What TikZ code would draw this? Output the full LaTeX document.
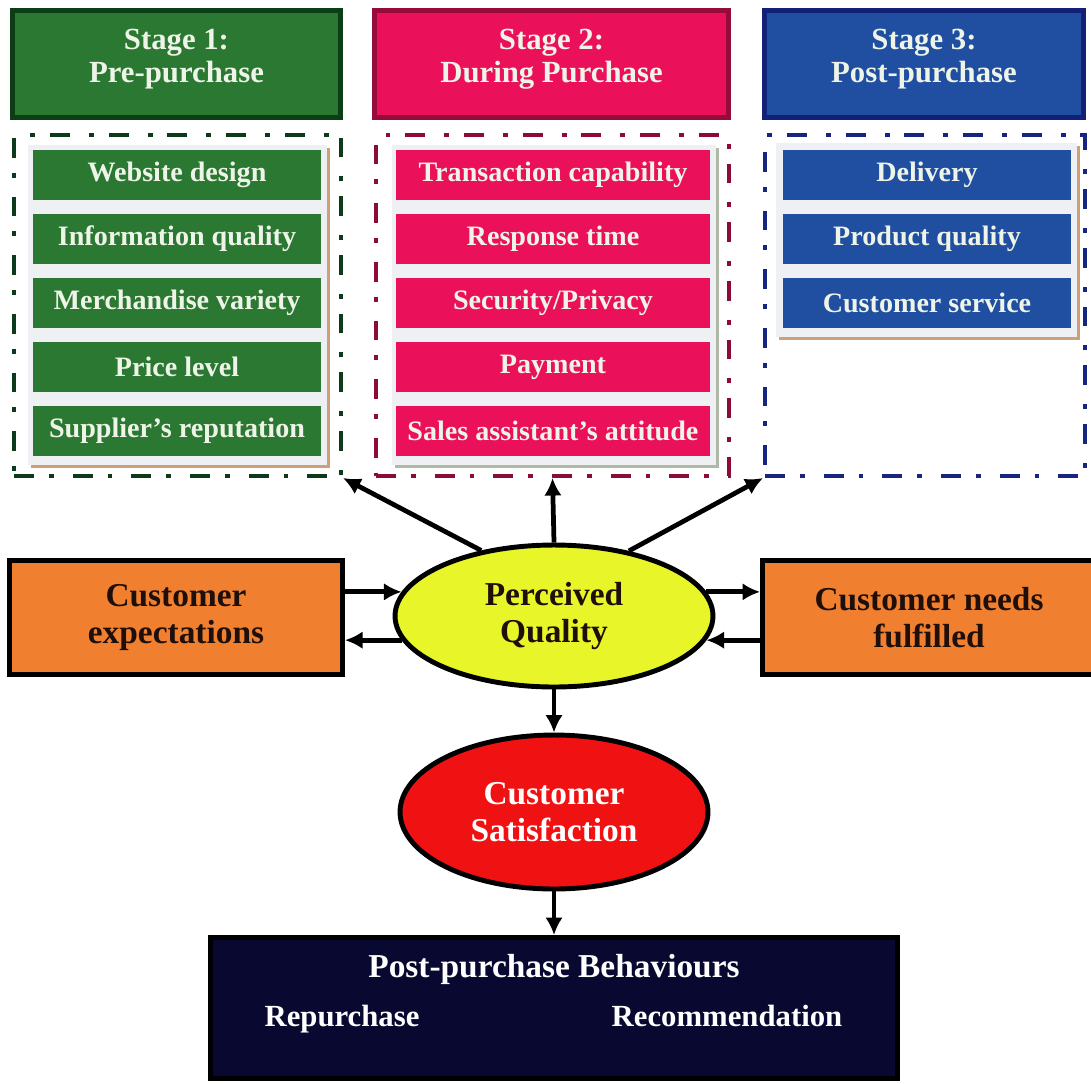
\documentclass[tikz,border=0pt]{standalone}
\usepackage{fontspec}
\setmainfont{Liberation Serif}
\usetikzlibrary{shapes.geometric,arrows.meta,shadows}

\definecolor{stgreen}{RGB}{42,120,50}
\definecolor{hdgreen}{RGB}{12,62,22}
\definecolor{frgreen}{RGB}{14,58,28}
\definecolor{stpink}{RGB}{234,16,90}
\definecolor{hdpink}{RGB}{150,10,60}
\definecolor{frpink}{RGB}{140,12,55}
\definecolor{stblue}{RGB}{32,78,160}
\definecolor{hdblue}{RGB}{18,32,120}
\definecolor{frblue}{RGB}{22,38,128}
\definecolor{panelgray}{RGB}{238,240,244}
\definecolor{shtan}{RGB}{205,160,120}
\definecolor{shsage}{RGB}{175,185,165}
\definecolor{cuorange}{RGB}{240,128,48}
\definecolor{pqyellow}{RGB}{232,245,40}
\definecolor{csred}{RGB}{240,18,18}
\definecolor{ppnavy}{RGB}{8,8,48}
\definecolor{paletext}{RGB}{238,245,232}
\definecolor{darktext}{RGB}{30,15,10}

\begin{document}
\begin{tikzpicture}[x=0.02cm, y=-0.02cm,
    hdr/.style={draw, line width=2.8pt, inner sep=0pt, minimum height=2.14cm},
    hdrtext/.style={text=paletext, font=\fontsize{17.5}{19}\selectfont\bfseries, align=center},
    stageframe/.style={line width=2.3pt, dash pattern=on 11.3pt off 8.5pt on 2.8pt off 10.8pt,
        minimum height=6.82cm, inner sep=0pt},
    panel/.style={fill=panelgray, inner sep=0pt},
    item/.style={text=paletext, font=\fontsize{16}{18}\selectfont\bfseries, minimum height=1cm, inner sep=0pt},
    orangebox/.style={draw=black, line width=2.8pt, fill=cuorange, minimum width=6.66cm, minimum height=2.28cm,
        text=darktext, font=\fontsize{19}{21.5}\selectfont\bfseries, align=center},
    oval/.style={ellipse, draw=black, line width=2.8pt, inner sep=0pt,
        font=\fontsize{19}{21}\selectfont\bfseries, align=center},
    bottomtext/.style={text=white, font=\fontsize{19}{21}\selectfont\bfseries, anchor=base},
    arr/.style={-{Latex[length=10pt,width=10pt]}, line width=2.7pt},
]
    \useasboundingbox (0,0) rectangle (1091,1083);

    % Stage headers
    \node[hdr, draw=hdgreen, fill=stgreen, minimum width=6.56cm] (h1) at (176.5,64) {};
    \node[hdr, draw=hdpink, fill=stpink, minimum width=7.08cm] (h2) at (551.5,64) {};
    \node[hdr, draw=hdblue, fill=stblue, minimum width=6.38cm] (h3) at (924,64) {};
    \node[hdrtext] (h1t) at ([yshift=0.1cm]h1.center) {Stage 1:\\Pre-purchase};
    \node[hdrtext] (h2t) at ([yshift=0.1cm]h2.center) {Stage 2:\\During Purchase};
    \node[hdrtext] (h3t) at ([yshift=0.1cm]h3.center) {Stage 3:\\Post-purchase};

    % Dash-dot frames
    \node[stageframe, draw=frgreen, minimum width=6.54cm] (f1) at (177.5,305.5) {};
    \node[stageframe, draw=frpink, minimum width=7.06cm] (f2) at (552.5,305.5) {};
    \node[stageframe, draw=frblue, minimum width=6.4cm] (f3) at (925,305.5) {};

    % Panels with shadow
    \node[panel, minimum width=5.98cm, minimum height=6.4cm,
        drop shadow={shadow xshift=1.7pt, shadow yshift=-1.7pt, fill=shtan, opacity=1}] (p1) at (177.5,305) {};
    \node[panel, minimum width=6.48cm, minimum height=6.4cm,
        drop shadow={shadow xshift=1.7pt, shadow yshift=-1.7pt, fill=shsage, opacity=1}] (p2) at (554,305) {};
    \node[panel, minimum width=6.02cm, minimum height=3.88cm,
        drop shadow={shadow xshift=1.7pt, shadow yshift=-1.7pt, fill=shtan, opacity=1}] (p3) at (926.5,240) {};

    % Items
    \foreach \txt [count=\i from 0] in {Website design, Information quality, Merchandise variety, Price level, Supplier’s reputation}
        \node[item, fill=stgreen, minimum width=5.76cm] (g\i) at (177,175+64*\i) {\txt};
    \foreach \txt [count=\i from 0] in {Transaction capability, Response time, Security/Privacy, Payment, Sales assistant’s attitude}
        \node[item, fill=stpink, minimum width=6.28cm] (r\i) at (553,175+64*\i) {\txt};
    \foreach \txt [count=\i from 0] in {Delivery, Product quality, Customer service}
        \node[item, fill=stblue, minimum width=5.76cm] (b\i) at (927,175+64*\i) {\txt};

    % Middle row
    \node[orangebox] (cexp) at (176,617.5) {Customer\\expectations};
    \node[orangebox] (cneed) at (929,617.5) {Customer needs\\fulfilled};
    \node[oval, fill=pqyellow, text=darktext, minimum width=6.36cm, minimum height=2.84cm] (pq) at (554,616) {Perceived\\Quality};
    \node[oval, fill=csred, text=white, minimum width=6.16cm, minimum height=3.08cm] (cs) at (554,812) {Customer\\Satisfaction};

    % Post-purchase box
    \node[draw=black, line width=2.8pt, fill=ppnavy, minimum width=13.74cm, minimum height=2.82cm] (ppb) at (554,1008) {};
    \node[bottomtext] (ppbt) at (554,977) {Post-purchase Behaviours};
    \node[bottomtext, font=\fontsize{17.5}{20}\selectfont\bfseries] (rep) at (342,1026) {Repurchase};
    \node[bottomtext, font=\fontsize{17.5}{20}\selectfont\bfseries] (rec) at (727,1026) {Recommendation};

    % Arrows
    \draw[arr] (pq.138) -- (f1.south east);
    \draw[arr] (pq.north) -- (f2.south);
    \draw[arr] (pq.41) -- (f3.south west);
    \draw[arr] (cexp.east |- pq.171) -- (pq.171);
    \draw[arr] (pq.189) -- (cexp.east |- pq.189);
    \draw[arr] (pq.9) -- (cneed.west |- pq.9);
    \draw[arr] (cneed.west |- pq.351) -- (pq.351);
    \draw[arr] (pq) -- (cs);
    \draw[arr] (cs) -- (ppb);

\end{tikzpicture}
\end{document}
